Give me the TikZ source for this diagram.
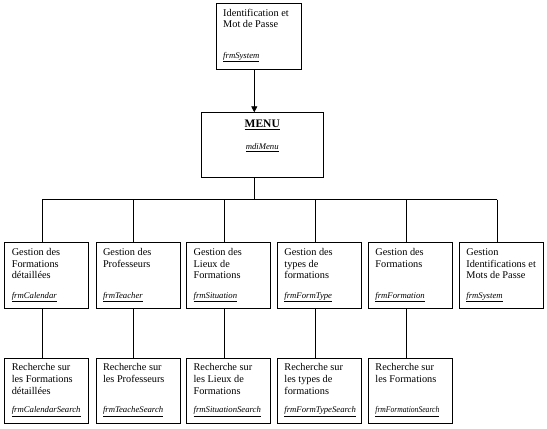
\documentclass[tikz,border=0pt]{standalone}
\usepackage{fontspec}
\setmainfont{Liberation Serif}
\usetikzlibrary{arrows.meta,calc}
\begin{document}
\begin{tikzpicture}[x=1pt,y=-1pt,
  box/.style={draw=black,line width=0.8pt,minimum width=84pt,minimum height=66pt,anchor=north west,inner sep=0pt},
  rbox/.style={box,minimum height=65pt},
  txt/.style={anchor=north west,inner sep=0pt,align=left,font=\fontsize{10.3}{11.6}\selectfont},
  frm/.style={anchor=base west,inner sep=0pt,font=\fontsize{8.7}{10}\selectfont\itshape},
  link/.style={draw=black,line width=0.8pt}]
\useasboundingbox (0,0) rectangle (547,429);
% top box
\node[box,minimum width=84.7pt] (login) at (216,3) {};
\node[txt] (loginT) at ($(login.north west)+(7,5)$) {\rule{0pt}{8pt}Identification et\\Mot de Passe};
\node[frm] (loginF) at ($(login.north west)+(7,55.3)$) {\underline{frmSystem}};
% menu
\node[box,minimum width=121.7pt,minimum height=65pt] (menu) at (201,112.3) {};
\node[anchor=base,inner sep=0pt,font=\fontsize{11.5}{12}\selectfont\bfseries] (menuT) at ($(menu.north)+(0,15)$) {\underline{MENU}};
\node[frm,anchor=base] (menuF) at ($(menu.north)+(0,37)$) {\underline{mdiMenu}};
% row 2
\node[box] (b1) at (4.4,242) {};
\node[box] (b2) at (95.6,242) {};
\node[box] (b3) at (186.2,242) {};
\node[box] (b4) at (277,242) {};
\node[box] (b5) at (368,242) {};
\node[box] (b6) at (459,242) {};
\node[txt] (b1T) at ($(b1.north west)+(7.2,5.4)$) {\rule{0pt}{8pt}Gestion des\\Formations\\détaillées};
\node[txt] (b2T) at ($(b2.north west)+(7.2,5.4)$) {\rule{0pt}{8pt}Gestion des\\Professeurs};
\node[txt] (b3T) at ($(b3.north west)+(7.2,5.4)$) {\rule{0pt}{8pt}Gestion des\\Lieux de\\Formations};
\node[txt] (b4T) at ($(b4.north west)+(7.2,5.4)$) {\rule{0pt}{8pt}Gestion des\\types de\\formations};
\node[txt] (b5T) at ($(b5.north west)+(7.2,5.4)$) {\rule{0pt}{8pt}Gestion des\\Formations};
\node[txt] (b6T) at ($(b6.north west)+(7.2,5.4)$) {\rule{0pt}{8pt}Gestion\\Identifications et\\Mots de Passe};
\node[frm] (b1F) at ($(b1.north west)+(7.2,56.3)$) {\underline{frmCalendar}};
\node[frm] (b2F) at ($(b2.north west)+(7.2,56.3)$) {\underline{frmTeacher}};
\node[frm] (b3F) at ($(b3.north west)+(7.2,56.3)$) {\underline{frmSituation}};
\node[frm] (b4F) at ($(b4.north west)+(7.2,56.3)$) {\underline{frmFormType}};
\node[frm] (b5F) at ($(b5.north west)+(7.2,56.3)$) {\underline{frmFormation}};
\node[frm] (b6F) at ($(b6.north west)+(7.2,56.3)$) {\underline{frmSystem}};
% row 3
\node[rbox] (r1) at (4.4,358.3) {};
\node[rbox] (r2) at (95.6,358.3) {};
\node[rbox] (r3) at (186.2,358.3) {};
\node[rbox] (r4) at (277,358.3) {};
\node[rbox] (r5) at (368,358.3) {};
\node[txt] (r1T) at ($(r1.north west)+(7.2,4.4)$) {\rule{0pt}{8pt}Recherche sur\\les Formations\\détaillées};
\node[txt] (r2T) at ($(r2.north west)+(7.2,4.4)$) {\rule{0pt}{8pt}Recherche sur\\les Professeurs};
\node[txt] (r3T) at ($(r3.north west)+(7.2,4.4)$) {\rule{0pt}{8pt}Recherche sur\\les Lieux de\\Formations};
\node[txt] (r4T) at ($(r4.north west)+(7.2,4.4)$) {\rule{0pt}{8pt}Recherche sur\\les types de\\formations};
\node[txt] (r5T) at ($(r5.north west)+(7.2,4.4)$) {\rule{0pt}{8pt}Recherche sur\\les Formations};
\node[frm] (r1F) at ($(r1.north west)+(7.2,54.4)$) {\underline{frmCalendarSearch}};
\node[frm] (r2F) at ($(r2.north west)+(7.2,54.4)$) {\underline{frmTeacheSearch}};
\node[frm] (r3F) at ($(r3.north west)+(7.2,54.4)$) {\underline{frmSituationSearch}};
\node[frm] (r4F) at ($(r4.north west)+(7.2,54.4)$) {\underline{frmFormTypeSearch}};
\node[frm] (r5F) at ($(r5.north west)+(7.2,54.4)$) {\underline{\scalebox{0.875}[1]{frmFormationSearch}}};
% connectors
\coordinate (bus) at (0,199.5);
\coordinate (loginS) at ($(login.south west)+(38.3,0)$);
\coordinate (menuN) at ($(menu.north west)+(53.3,0)$);
\coordinate (menuS) at ($(menu.south west)+(53.3,0)$);
\draw[link,-{Triangle[length=6pt,width=6pt]}] (loginS) -- (menuN);
\draw[link] (menuS) -- (menuS |- bus);
\foreach \i in {1,...,6}{
  \coordinate (b\i N) at ($(b\i.north west)+(38,0)$);
  \draw[link] (b\i N |- bus) -- (b\i N);
}
\draw[link,line cap=rect] (b1N |- bus) -- (b6N |- bus);
\foreach \i in {1,...,5}{
  \draw[link] ($(b\i.south west)+(38,0)$) -- ($(r\i.north west)+(38,0)$);
}
\end{tikzpicture}
\end{document}
